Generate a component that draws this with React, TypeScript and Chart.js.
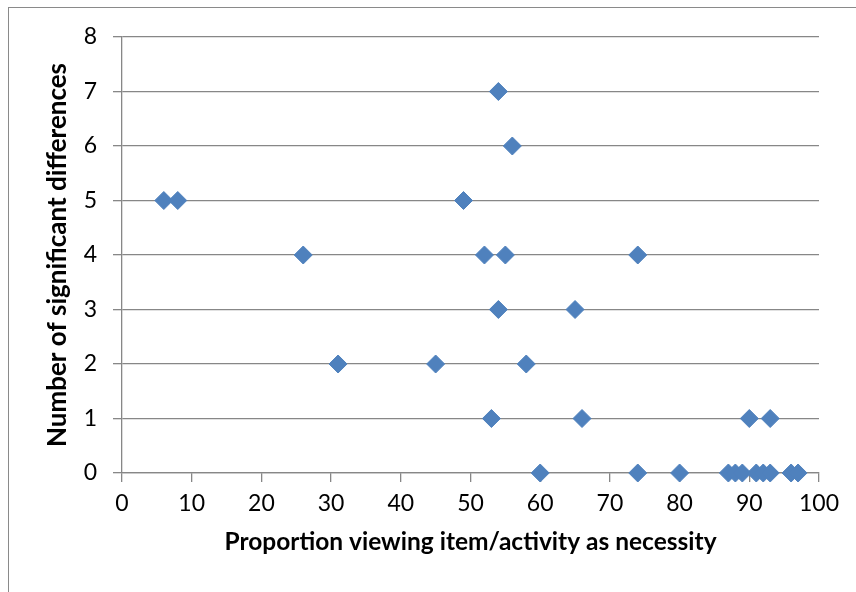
import React, { useEffect, useRef } from "react";
import { Chart, registerables } from "chart.js";

Chart.register(...registerables);

// Data
const proportionValues: number[] = [
  54,
  56,
  6, 8, 49,
  26, 52, 55, 74,
  54, 65,
  31, 45, 58,
  53, 66, 90, 93,
  60, 74, 80, 87, 88, 89, 91, 92, 93, 96, 97,
];
const differenceValues: number[] = [
  7,
  6,
  5, 5, 5,
  4, 4, 4, 4,
  3, 3,
  2, 2, 2,
  1, 1, 1, 1,
  0, 0, 0, 0, 0, 0, 0, 0, 0, 0, 0,
];
const xTitle = "Proportion viewing item/activity as necessity";
const yTitle = "Number of significant differences";

const W = 856;
const H = 592;
const GRID = "#878787";
const BLUE = "#4F81BD";

export default function App() {
  const ref = useRef<HTMLCanvasElement | null>(null);

  useEffect(() => {
    if (!ref.current) return;
    const points = proportionValues.map((x, i) => ({ x, y: differenceValues[i] }));
    const chart = new Chart(ref.current, {
      type: "scatter",
      data: {
        datasets: [
          {
            data: points,
            pointStyle: "rectRot",
            pointRadius: 9,
            pointHoverRadius: 9,
            backgroundColor: BLUE,
            borderColor: BLUE,
            borderWidth: 1,
            clip: false,
          },
        ],
      },
      options: {
        responsive: false,
        animation: false,
        layout: { padding: { left: 0, top: 37, right: W - 819, bottom: 0 } },
        plugins: { legend: { display: false }, tooltip: { enabled: false } },
        scales: {
          x: {
            type: "linear",
            min: 0,
            max: 100,
            afterFit: (s: any) => {
              s.height = H - 473;
            },
            ticks: {
              stepSize: 10,
              color: "#000",
              padding: 8,
              font: { family: "Lato", size: 23 },
            },
            grid: {
              drawOnChartArea: false,
              drawTicks: true,
              tickLength: 9,
              color: GRID,
              lineWidth: 1.3,
            },
            border: { display: true, color: GRID, width: 1.3 },
            title: {
              display: true,
              text: xTitle,
              color: "#000",
              font: { family: "Lato", size: 24.5, weight: "bold" },
              padding: { top: 0, bottom: 35 },
            },
          },
          y: {
            type: "linear",
            min: 0,
            max: 8,
            afterFit: (s: any) => {
              s.width = 122;
            },
            ticks: {
              stepSize: 1,
              color: "#000",
              padding: 16,
              font: { family: "Lato", size: 23 },
            },
            grid: {
              drawOnChartArea: true,
              drawTicks: true,
              tickLength: 9,
              color: GRID,
              lineWidth: 1.3,
            },
            border: { display: true, color: GRID, width: 1.3 },
            title: {
              display: true,
              text: yTitle,
              color: "#000",
              font: { family: "Lato", size: 26, weight: "bold" },
              padding: { top: 42, bottom: 0 },
            },
          },
        },
      },
    });
    return () => chart.destroy();
  }, []);

  return (
    <div style={{ position: "fixed", left: 0, top: 0, width: W, height: H, overflow: "hidden", background: "#fff" }}>
      <div
        style={{
          position: "absolute",
          left: 8,
          top: 7,
          width: W,
          height: H,
          borderLeft: "1.5px solid #8a8a8a",
          borderTop: "1.5px solid #8a8a8a",
        }}
      />
      <canvas ref={ref} width={W} height={H} style={{ position: "absolute", left: 0, top: 0 }} />
    </div>
  );
}
